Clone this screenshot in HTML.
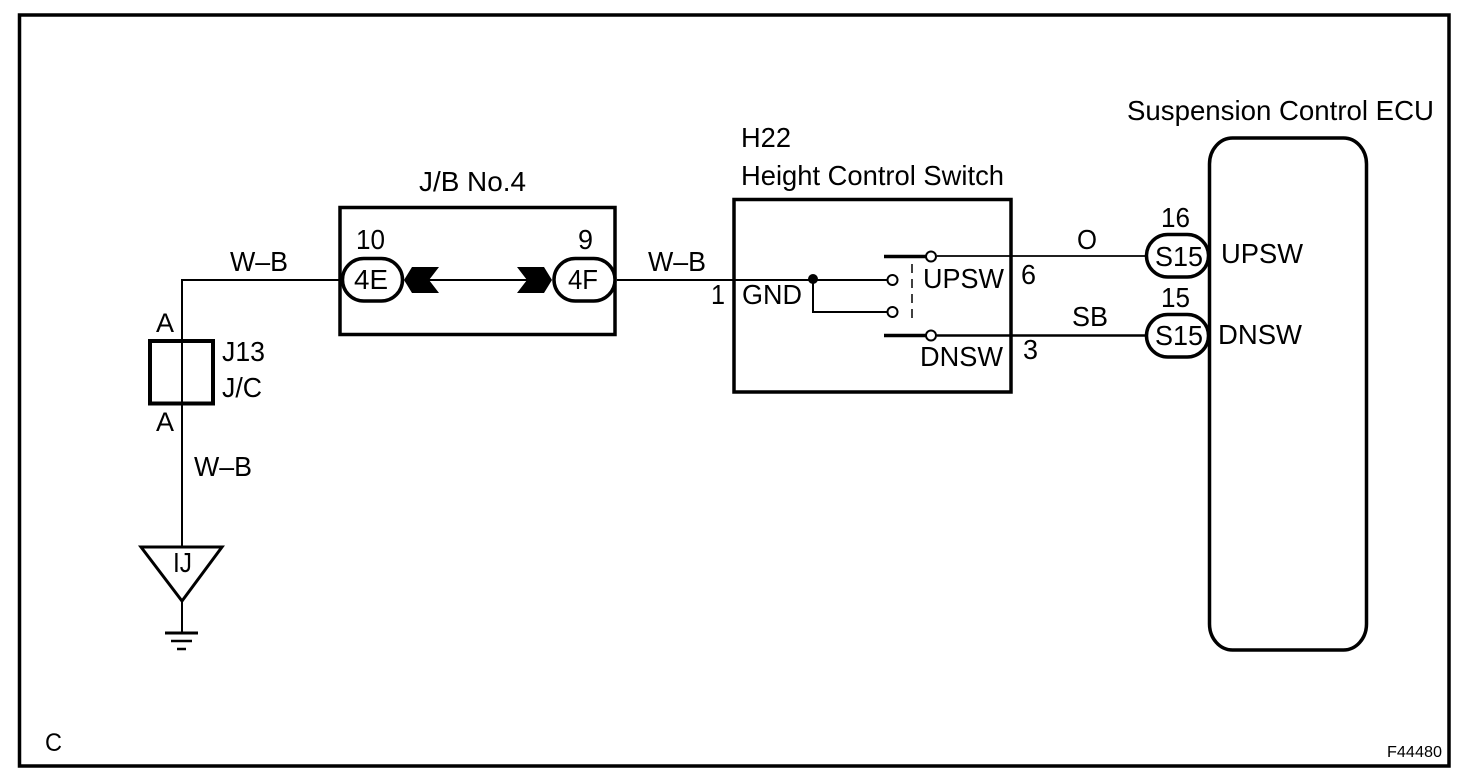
<!DOCTYPE html>
<html>
<head>
<meta charset="utf-8">
<style>
html,body{margin:0;padding:0;background:#fff;width:1472px;height:784px;overflow:hidden}
svg{display:block}
text{font-family:"Liberation Sans",sans-serif;font-size:28px;fill:#000}
</style>
</head>
<body>
<svg width="1472" height="784" viewBox="0 0 1472 784" xmlns="http://www.w3.org/2000/svg">
<rect width="1472" height="784" fill="#fff"/>
<g fill="none" stroke="#000">
<rect x="19.5" y="15" width="1429.5" height="751" stroke-width="3.5"/>
<path d="M341 280H182V546" stroke-width="2"/>
<path d="M182 602V633" stroke-width="2"/>
<path d="M429 280H527M617 280H887" stroke-width="2"/>
<path d="M813 280V312H887" stroke-width="2"/>
<path d="M937 256H1145" stroke-width="1.8"/>
<path d="M937 335.500H1145" stroke-width="2.500"/>
<rect x="340" y="207.500" width="275" height="127" stroke-width="3.500"/>
<rect x="734" y="199.500" width="277" height="192.500" stroke-width="3.500"/>
<rect x="150" y="341" width="63" height="62.500" stroke-width="4"/>
<rect x="1209.500" y="138" width="157" height="512" rx="23" ry="26" stroke-width="3.500"/>
<path d="M141 547H222L182 601Z" stroke-width="3"/>
<path d="M165 633H198" stroke-width="3"/>
<path d="M171 641H192" stroke-width="2.500"/>
<path d="M177 649H186" stroke-width="2.500"/>
<path d="M884 256.500H926M884 335.500H926" stroke-width="3.500"/>
<path d="M912 264V322" stroke-width="1.500" stroke-dasharray="9 6"/>
<rect x="342.500" y="258.500" width="60" height="42.500" rx="21.250" fill="#fff" stroke-width="3.500"/>
<rect x="554" y="258.500" width="61" height="42.500" rx="21.250" fill="#fff" stroke-width="3.500"/>
<rect x="1146.500" y="234.500" width="62" height="42.500" rx="21.250" fill="#fff" stroke-width="3.500"/>
<rect x="1146.500" y="314.500" width="62" height="42.500" rx="21.250" fill="#fff" stroke-width="3.500"/>
<circle cx="892.500" cy="280" r="5" fill="#fff" stroke-width="2"/>
<circle cx="892.500" cy="312" r="5" fill="#fff" stroke-width="2"/>
<circle cx="931" cy="256.500" r="5" fill="#fff" stroke-width="2"/>
<circle cx="931" cy="335.500" r="5" fill="#fff" stroke-width="2"/>
</g>
<circle cx="813" cy="279" r="5" fill="#000"/>
<polygon points="404,280 412,267 439,267 429,280 439,293 412,293" fill="#000"/>
<polygon points="552,280 544,267 517,267 527,280 517,293 544,293" fill="#000"/>
<text x="1127" y="120" textLength="307" lengthAdjust="spacingAndGlyphs">Suspension Control ECU</text>
<text x="741" y="147" textLength="50" lengthAdjust="spacingAndGlyphs">H22</text>
<text x="741" y="185" textLength="263" lengthAdjust="spacingAndGlyphs">Height Control Switch</text>
<text x="419" y="191" textLength="107" lengthAdjust="spacingAndGlyphs">J/B No.4</text>
<text x="356" y="249" textLength="29" lengthAdjust="spacingAndGlyphs">10</text>
<text x="578" y="249" textLength="15" lengthAdjust="spacingAndGlyphs">9</text>
<text x="354" y="289" textLength="34" lengthAdjust="spacingAndGlyphs">4E</text>
<text x="568" y="289" textLength="30" lengthAdjust="spacingAndGlyphs">4F</text>
<text x="230" y="271" textLength="58" lengthAdjust="spacingAndGlyphs">W–B</text>
<text x="648" y="271" textLength="58" lengthAdjust="spacingAndGlyphs">W–B</text>
<text x="194" y="476" textLength="58" lengthAdjust="spacingAndGlyphs">W–B</text>
<text x="711" y="304" textLength="14" lengthAdjust="spacingAndGlyphs">1</text>
<text x="742" y="304" textLength="60" lengthAdjust="spacingAndGlyphs">GND</text>
<text x="923" y="288" textLength="81" lengthAdjust="spacingAndGlyphs">UPSW</text>
<text x="920" y="366" textLength="83" lengthAdjust="spacingAndGlyphs">DNSW</text>
<text x="1021" y="284" textLength="15" lengthAdjust="spacingAndGlyphs">6</text>
<text x="1023" y="359" textLength="15" lengthAdjust="spacingAndGlyphs">3</text>
<text x="1077" y="249" textLength="20" lengthAdjust="spacingAndGlyphs">O</text>
<text x="1072" y="326" textLength="36" lengthAdjust="spacingAndGlyphs">SB</text>
<text x="1161" y="227" textLength="29" lengthAdjust="spacingAndGlyphs">16</text>
<text x="1161" y="307" textLength="29" lengthAdjust="spacingAndGlyphs">15</text>
<text x="1155" y="266" textLength="48" lengthAdjust="spacingAndGlyphs">S15</text>
<text x="1155" y="345" textLength="48" lengthAdjust="spacingAndGlyphs">S15</text>
<text x="1221" y="263" textLength="82" lengthAdjust="spacingAndGlyphs">UPSW</text>
<text x="1218" y="344" textLength="84" lengthAdjust="spacingAndGlyphs">DNSW</text>
<text x="156" y="332" style="font-size:27px">A</text>
<text x="156" y="431" style="font-size:27px">A</text>
<text x="222" y="361" textLength="43" lengthAdjust="spacingAndGlyphs">J13</text>
<text x="222" y="397" textLength="40" lengthAdjust="spacingAndGlyphs">J/C</text>
<text x="173" y="572" textLength="19" lengthAdjust="spacingAndGlyphs">IJ</text>
<text x="45" y="751" textLength="17" lengthAdjust="spacingAndGlyphs" style="font-size:25px">C</text>
<text x="1387" y="757" textLength="55" lengthAdjust="spacingAndGlyphs" style="font-size:16px">F44480</text>
</svg>
</body>
</html>
